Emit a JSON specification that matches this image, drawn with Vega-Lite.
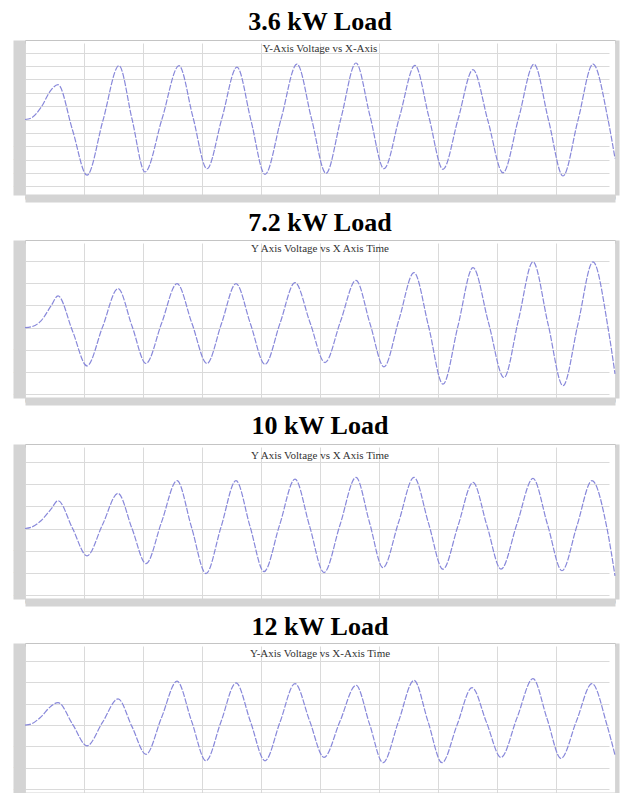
{
  "$schema": "https://vega.github.io/schema/vega-lite/v6.json",
  "background": "white",
  "padding": {"top": 8, "left": 12, "right": 5, "bottom": 0},
  "spacing": 8,
  "datasets": {
    "p1": [
      {"t": 0, "v": 0}, {"t": 0.00203, "v": 5}, {"t": 0.00542, "v": 45}, {"t": 0.00881, "v": 110}, {"t": 0.01119, "v": 130},
      {"t": 0.0161, "v": -39}, {"t": 0.02102, "v": -208}, {"t": 0.02644, "v": -3}, {"t": 0.03186, "v": 201},
      {"t": 0.03627, "v": 2}, {"t": 0.04068, "v": -196}, {"t": 0.04644, "v": 2}, {"t": 0.0522, "v": 201},
      {"t": 0.05695, "v": 8}, {"t": 0.06169, "v": -184}, {"t": 0.06678, "v": 6}, {"t": 0.07186, "v": 196},
      {"t": 0.07661, "v": -4}, {"t": 0.08136, "v": -205}, {"t": 0.08678, "v": 1}, {"t": 0.0922, "v": 207},
      {"t": 0.09712, "v": 3}, {"t": 0.10203, "v": -201}, {"t": 0.10712, "v": 5}, {"t": 0.1122, "v": 211},
      {"t": 0.11695, "v": 13}, {"t": 0.12169, "v": -184}, {"t": 0.12695, "v": 9}, {"t": 0.1322, "v": 202},
      {"t": 0.13695, "v": 8}, {"t": 0.14169, "v": -186}, {"t": 0.14678, "v": 0}, {"t": 0.15186, "v": 186},
      {"t": 0.15695, "v": -6}, {"t": 0.16203, "v": -199}, {"t": 0.16729, "v": 4}, {"t": 0.17254, "v": 207},
      {"t": 0.17746, "v": -2}, {"t": 0.18237, "v": -211}, {"t": 0.18746, "v": -2}, {"t": 0.19254, "v": 207},
      {"t": 0.19763, "v": 0}, {"t": 0.2, "v": -145}
    ],
    "p2": [
      {"t": 0, "v": 0}, {"t": 0.00203, "v": 3}, {"t": 0.00542, "v": 30}, {"t": 0.00881, "v": 97}, {"t": 0.01119, "v": 142},
      {"t": 0.0161, "v": -15}, {"t": 0.02102, "v": -172}, {"t": 0.02627, "v": 2}, {"t": 0.03153, "v": 175},
      {"t": 0.03627, "v": 7}, {"t": 0.04102, "v": -161}, {"t": 0.04627, "v": 18}, {"t": 0.05153, "v": 197},
      {"t": 0.05661, "v": 18}, {"t": 0.06169, "v": -161}, {"t": 0.06661, "v": 18}, {"t": 0.07153, "v": 197},
      {"t": 0.07644, "v": 16}, {"t": 0.08136, "v": -165}, {"t": 0.08644, "v": 19}, {"t": 0.09153, "v": 202},
      {"t": 0.09661, "v": 23}, {"t": 0.10169, "v": -157}, {"t": 0.10695, "v": 28}, {"t": 0.1122, "v": 212},
      {"t": 0.11695, "v": 18}, {"t": 0.12169, "v": -176}, {"t": 0.12678, "v": 36}, {"t": 0.13186, "v": 247},
      {"t": 0.13678, "v": 7}, {"t": 0.14169, "v": -254}, {"t": 0.14678, "v": 8}, {"t": 0.15186, "v": 269},
      {"t": 0.15712, "v": 22}, {"t": 0.16237, "v": -224}, {"t": 0.16729, "v": 35}, {"t": 0.1722, "v": 295},
      {"t": 0.17729, "v": 17}, {"t": 0.18237, "v": -261}, {"t": 0.18746, "v": 17}, {"t": 0.19254, "v": 295},
      {"t": 0.19763, "v": 0}, {"t": 0.2, "v": -208}
    ],
    "p3": [
      {"t": 0, "v": 0}, {"t": 0.00203, "v": 5}, {"t": 0.00542, "v": 35}, {"t": 0.00881, "v": 87}, {"t": 0.01119, "v": 125},
      {"t": 0.0161, "v": 1}, {"t": 0.02102, "v": -123}, {"t": 0.02627, "v": 17}, {"t": 0.03153, "v": 158},
      {"t": 0.03627, "v": 0}, {"t": 0.04102, "v": -158}, {"t": 0.04627, "v": 28}, {"t": 0.05153, "v": 215},
      {"t": 0.05644, "v": 6}, {"t": 0.06136, "v": -203}, {"t": 0.06644, "v": 6}, {"t": 0.07153, "v": 215},
      {"t": 0.07627, "v": 10}, {"t": 0.08102, "v": -194}, {"t": 0.08627, "v": 14}, {"t": 0.09153, "v": 222},
      {"t": 0.09644, "v": 12}, {"t": 0.10136, "v": -198}, {"t": 0.10678, "v": 16}, {"t": 0.1122, "v": 230},
      {"t": 0.11678, "v": 27}, {"t": 0.12136, "v": -176}, {"t": 0.12661, "v": 27}, {"t": 0.13186, "v": 230},
      {"t": 0.13678, "v": 24}, {"t": 0.14169, "v": -183}, {"t": 0.14678, "v": 12}, {"t": 0.15186, "v": 207},
      {"t": 0.15661, "v": 12}, {"t": 0.16136, "v": -183}, {"t": 0.16678, "v": 21}, {"t": 0.1722, "v": 225},
      {"t": 0.17712, "v": 18}, {"t": 0.18203, "v": -190}, {"t": 0.18712, "v": 13}, {"t": 0.1922, "v": 215},
      {"t": 0.19729, "v": 0}, {"t": 0.2, "v": -213}
    ],
    "p4": [
      {"t": 0, "v": 0}, {"t": 0.00203, "v": 5}, {"t": 0.00542, "v": 39}, {"t": 0.00881, "v": 89}, {"t": 0.01119, "v": 106},
      {"t": 0.0161, "v": 5}, {"t": 0.02102, "v": -97}, {"t": 0.02627, "v": 13}, {"t": 0.03153, "v": 123},
      {"t": 0.03627, "v": -7}, {"t": 0.04102, "v": -137}, {"t": 0.04627, "v": 35}, {"t": 0.05153, "v": 206},
      {"t": 0.05644, "v": 20}, {"t": 0.06136, "v": -167}, {"t": 0.06644, "v": 16}, {"t": 0.07153, "v": 198},
      {"t": 0.07644, "v": 16}, {"t": 0.08136, "v": -167}, {"t": 0.08644, "v": 14}, {"t": 0.09153, "v": 195},
      {"t": 0.09644, "v": 22}, {"t": 0.10136, "v": -151}, {"t": 0.10678, "v": 18}, {"t": 0.1122, "v": 187},
      {"t": 0.11678, "v": 6}, {"t": 0.12136, "v": -176}, {"t": 0.12661, "v": 17}, {"t": 0.13186, "v": 210},
      {"t": 0.13661, "v": 17}, {"t": 0.14136, "v": -176}, {"t": 0.14644, "v": 0}, {"t": 0.15153, "v": 176},
      {"t": 0.15644, "v": 13}, {"t": 0.16136, "v": -151}, {"t": 0.16678, "v": 34}, {"t": 0.1722, "v": 218},
      {"t": 0.17695, "v": 31}, {"t": 0.18169, "v": -156}, {"t": 0.18695, "v": 20}, {"t": 0.1922, "v": 195},
      {"t": 0.19729, "v": 0}, {"t": 0.2, "v": -140}
    ]
  },
  "vconcat": [
    {
      "title": {"text": "3.6 kW Load", "offset": 4.7},
      "width": 590, "height": 155,
      "layer": [
        {
          "data": {"name": "p1"},
          "mark": {"type": "line", "interpolate": "monotone", "color": "#8888da", "strokeWidth": 1.2, "strokeDash": [6, 1.5]},
          "encoding": {
            "x": {"field": "t", "type": "quantitative", "scale": {"domain": [0, 0.2], "nice": false, "zero": false}, "axis": {"values": [0, 0.02, 0.04, 0.06, 0.08, 0.1, 0.12, 0.14, 0.16, 0.18, 0.2], "title": null}},
            "y": {"field": "v", "type": "quantitative", "scale": {"domain": [-282, 297], "nice": false, "zero": false}, "axis": {"orient": "left", "values": [-250, -200, -150, -100, -50, 0, 50, 100, 150, 200, 250], "title": null}}
          }
        },
        {
          "data": {"values": [{"label": "Y-Axis Voltage vs X-Axis"}]},
          "mark": {"type": "text", "baseline": "middle", "dy": 9, "font": "Liberation Serif", "fontSize": 11, "color": "#333333"},
          "encoding": {
            "text": {"field": "label"},
            "x": {"datum": 0.1, "type": "quantitative", "scale": {"domain": [0, 0.2], "nice": false, "zero": false}},
            "y": {"datum": 297, "type": "quantitative", "scale": {"domain": [-282, 297], "nice": false, "zero": false}, "axis": {"orient": "right", "title": null}}
          }
        }
      ],
      "resolve": {"axis": {"y": "independent"}}
    },
    {
      "title": {"text": "7.2 kW Load", "offset": 4.3},
      "width": 590, "height": 158,
      "layer": [
        {
          "data": {"name": "p2"},
          "mark": {"type": "line", "interpolate": "monotone", "color": "#8888da", "strokeWidth": 1.2, "strokeDash": [6, 1.5]},
          "encoding": {
            "x": {"field": "t", "type": "quantitative", "scale": {"domain": [0, 0.2], "nice": false, "zero": false}, "axis": {"values": [0, 0.02, 0.04, 0.06, 0.08, 0.1, 0.12, 0.14, 0.16, 0.18, 0.2], "title": null}},
            "y": {"field": "v", "type": "quantitative", "scale": {"domain": [-316, 393], "nice": false, "zero": false}, "axis": {"orient": "left", "values": [-300, -200, -100, 0, 100, 200, 300], "title": null}}
          }
        },
        {
          "data": {"values": [{"label": "Y Axis Voltage vs X Axis Time"}]},
          "mark": {"type": "text", "baseline": "middle", "dy": 9, "font": "Liberation Serif", "fontSize": 11, "color": "#333333"},
          "encoding": {
            "text": {"field": "label"},
            "x": {"datum": 0.1, "type": "quantitative", "scale": {"domain": [0, 0.2], "nice": false, "zero": false}},
            "y": {"datum": 393, "type": "quantitative", "scale": {"domain": [-316, 393], "nice": false, "zero": false}, "axis": {"orient": "right", "title": null}}
          }
        }
      ],
      "resolve": {"axis": {"y": "independent"}}
    },
    {
      "title": {"text": "10 kW Load", "offset": 5.3},
      "width": 590, "height": 155,
      "layer": [
        {
          "data": {"name": "p3"},
          "mark": {"type": "line", "interpolate": "monotone", "color": "#8888da", "strokeWidth": 1.2, "strokeDash": [6, 1.5]},
          "encoding": {
            "x": {"field": "t", "type": "quantitative", "scale": {"domain": [0, 0.2], "nice": false, "zero": false}, "axis": {"values": [0, 0.02, 0.04, 0.06, 0.08, 0.1, 0.12, 0.14, 0.16, 0.18, 0.2], "title": null}},
            "y": {"field": "v", "type": "quantitative", "scale": {"domain": [-317, 380], "nice": false, "zero": false}, "axis": {"orient": "left", "values": [-300, -200, -100, 0, 100, 200, 300], "title": null}}
          }
        },
        {
          "data": {"values": [{"label": "Y Axis Voltage vs X Axis Time"}]},
          "mark": {"type": "text", "baseline": "middle", "dy": 12, "font": "Liberation Serif", "fontSize": 11, "color": "#333333"},
          "encoding": {
            "text": {"field": "label"},
            "x": {"datum": 0.1, "type": "quantitative", "scale": {"domain": [0, 0.2], "nice": false, "zero": false}},
            "y": {"datum": 380, "type": "quantitative", "scale": {"domain": [-317, 380], "nice": false, "zero": false}, "axis": {"orient": "right", "title": null}}
          }
        }
      ],
      "resolve": {"axis": {"y": "independent"}}
    },
    {
      "title": {"text": "12 kW Load", "offset": 3.4},
      "width": 590, "height": 150,
      "layer": [
        {
          "data": {"name": "p4"},
          "mark": {"type": "line", "interpolate": "monotone", "color": "#8888da", "strokeWidth": 1.2, "strokeDash": [6, 1.5]},
          "encoding": {
            "x": {"field": "t", "type": "quantitative", "scale": {"domain": [0, 0.2], "nice": false, "zero": false}, "axis": {"values": [0, 0.02, 0.04, 0.06, 0.08, 0.1, 0.12, 0.14, 0.16, 0.18, 0.2], "labels": false, "title": null}},
            "y": {"field": "v", "type": "quantitative", "scale": {"domain": [-318, 385], "nice": false, "zero": false}, "axis": {"orient": "left", "values": [-300, -200, -100, 0, 100, 200, 300], "title": null}}
          }
        },
        {
          "data": {"values": [{"label": "Y-Axis Voltage vs X-Axis Time"}]},
          "mark": {"type": "text", "baseline": "middle", "dy": 10.5, "font": "Liberation Serif", "fontSize": 11, "color": "#333333"},
          "encoding": {
            "text": {"field": "label"},
            "x": {"datum": 0.1, "type": "quantitative", "scale": {"domain": [0, 0.2], "nice": false, "zero": false}},
            "y": {"datum": 385, "type": "quantitative", "scale": {"domain": [-318, 385], "nice": false, "zero": false}, "axis": {"orient": "right", "title": null}}
          }
        }
      ],
      "resolve": {"axis": {"y": "independent"}}
    }
  ],
  "config": {
    "view": {"stroke": "#c4c4c4", "strokeWidth": 1},
    "title": {"font": "Liberation Serif", "fontSize": 26, "fontWeight": "bold", "color": "#000000", "anchor": "middle"},
    "axis": {
      "labelFont": "Liberation Sans", "labelFontSize": 4, "labelColor": "#8a8a8a", "tickSize": 0,
      "domainColor": "#d4d4d4", "gridColor": "#dadada", "gridWidth": 1, "labelOverlap": false
    },
    "axisX": {"domainWidth": 8, "offset": 3, "labelPadding": -2, "grid": true},
    "axisLeft": {"domainWidth": 12, "offset": 6, "labelPadding": -3, "grid": true},
    "axisRight": {"domainWidth": 4, "offset": 2, "labels": false, "grid": false}
  }
}
